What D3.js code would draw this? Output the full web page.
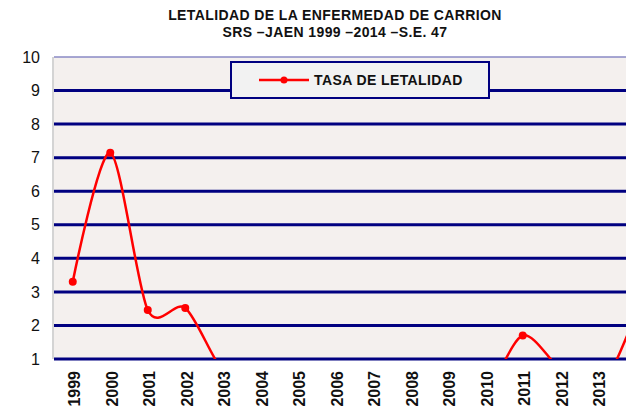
<!DOCTYPE html>
<html>
<head>
<meta charset="utf-8">
<script src="https://cdn.jsdelivr.net/npm/d3@7"></script>
<style>
  body { margin: 0; background: #fff; }
  svg { display: block; font-family: "Liberation Sans", Arial, sans-serif; }
</style>
</head>
<body>
<div id="chart"></div>
<script>
// data
var years = ["1999","2000","2001","2002","2003","2004","2005","2006","2007","2008","2009","2010","2011","2012","2013","2014"];
var tasa = [3.3, 7.15, 2.46, 2.52, 0.65, 0, 0, 0, 0, 0, 0, 0, 1.7, 0.7, 0, 2.3];
var yTicks = [1, 2, 3, 4, 5, 6, 7, 8, 9, 10];
var titleLines = ["LETALIDAD DE LA ENFERMEDAD DE CARRION", "SRS \u2013JAEN 1999 \u20132014 \u2013S.E. 47"];
var seriesName = "TASA DE LETALIDAD";

var width = 626, height = 412;
var plot = { left: 54, top: 57, right: 654, bottom: 359 };

var svg = d3.select("#chart").append("svg")
    .attr("width", width)
    .attr("height", height);

var x = d3.scaleBand().domain(years).range([plot.left, plot.right]);
var y = d3.scaleLinear().domain([1, 10]).range([plot.bottom, plot.top]);

// plot background
svg.append("rect")
    .attr("x", plot.left).attr("y", plot.top)
    .attr("width", plot.right - plot.left).attr("height", plot.bottom - plot.top)
    .attr("fill", "#F4F0EE");

// grid lines
svg.append("g").selectAll("line")
    .data(yTicks.filter(d => d < 10))
    .enter().append("line")
    .attr("x1", plot.left).attr("x2", plot.right)
    .attr("y1", d => y(d)).attr("y2", d => y(d))
    .attr("stroke", "#000080")
    .attr("stroke-width", 3);

// top border
svg.append("line")
    .attr("x1", plot.left).attr("x2", plot.right)
    .attr("y1", y(10)).attr("y2", y(10))
    .attr("stroke", "#8a8ac4").attr("stroke-width", 1.5);

// left axis line
svg.append("line")
    .attr("x1", plot.left - 1).attr("x2", plot.left - 1)
    .attr("y1", plot.top).attr("y2", plot.bottom)
    .attr("stroke", "#d4d4d4").attr("stroke-width", 2);

// y axis labels
var yAxis = d3.axisLeft(y).tickValues(yTicks).tickSize(0).tickPadding(0);
var yg = svg.append("g")
    .attr("transform", "translate(40,0)")
    .call(yAxis);
yg.select(".domain").remove();
yg.selectAll("text")
    .attr("font-size", 16)
    .attr("font-family", "Liberation Sans, Arial, sans-serif")
    .attr("fill", "#111");

// x axis labels (only the ones inside the window, as in the original)
var xAxis = d3.axisBottom(x).tickSize(0)
    .tickValues(years.filter(d => x(d) + x.bandwidth() / 2 + 8 < width));
var xg = svg.append("g")
    .attr("transform", "translate(2," + (plot.bottom + 12) + ")")
    .call(xAxis);
xg.select(".domain").remove();
xg.selectAll("text")
    .attr("font-size", 16)
    .attr("font-weight", "bold")
    .attr("font-family", "Liberation Sans, Arial, sans-serif")
    .attr("fill", "#111")
    .attr("text-anchor", "end")
    .attr("x", 0)
    .attr("y", 0)
    .attr("dx", 0)
    .attr("dy", "0.35em")
    .attr("transform", "rotate(-90)");

// clip to plot area
svg.append("clipPath").attr("id", "clip")
    .append("rect")
    .attr("x", plot.left).attr("y", plot.top - 5)
    .attr("width", plot.right - plot.left).attr("height", plot.bottom - plot.top + 5);

var data = years.map((d, i) => ({ year: d, value: tasa[i] }));

var line = d3.line()
    .x(d => x(d.year) + x.bandwidth() / 2)
    .y(d => y(d.value))
    .curve(d3.curveCardinal.tension(0.15));

var series = svg.append("g").attr("clip-path", "url(#clip)");
series.append("path")
    .datum(data)
    .attr("d", line)
    .attr("fill", "none")
    .attr("stroke", "#FF0000")
    .attr("stroke-width", 2.5);

series.selectAll("circle")
    .data(data.filter(d => d.value >= 1))
    .enter().append("circle")
    .attr("cx", d => x(d.year) + x.bandwidth() / 2)
    .attr("cy", d => y(d.value))
    .attr("r", 4)
    .attr("fill", "#FF0000");

// legend
var lg = svg.append("g");
lg.append("rect")
    .attr("x", 231).attr("y", 62)
    .attr("width", 258).attr("height", 36)
    .attr("fill", "#F2F2F2")
    .attr("stroke", "#000080").attr("stroke-width", 2);
lg.append("line")
    .attr("x1", 259).attr("x2", 309)
    .attr("y1", 80).attr("y2", 80)
    .attr("stroke", "#FF0000").attr("stroke-width", 2.5);
lg.append("circle")
    .attr("cx", 284).attr("cy", 80).attr("r", 3.5)
    .attr("fill", "#FF0000");
lg.append("text")
    .attr("x", 314).attr("y", 85)
    .attr("font-size", 14)
    .attr("font-weight", "bold")
    .attr("letter-spacing", 0.4)
    .attr("fill", "#111")
    .text(seriesName);

// title
svg.append("g").selectAll("text")
    .data(titleLines)
    .enter().append("text")
    .attr("x", 335)
    .attr("y", (d, i) => 20 + i * 16.5)
    .attr("text-anchor", "middle")
    .attr("font-size", 14)
    .attr("font-weight", "bold")
    .attr("letter-spacing", 0.4)
    .attr("fill", "#111")
    .text(d => d);
</script>
</body>
</html>
